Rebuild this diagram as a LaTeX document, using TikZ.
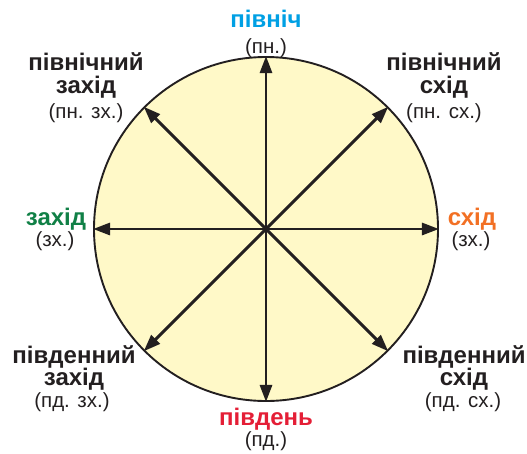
\documentclass[tikz,border=0pt]{standalone}
\usepackage{fontspec}
\setmainfont{Liberation Sans}
\usetikzlibrary{arrows.meta}
\definecolor{compink}{RGB}{35,31,32}
\definecolor{dialcream}{RGB}{255,249,200}
\definecolor{northblue}{RGB}{0,160,228}
\definecolor{westgreen}{RGB}{16,128,70}
\definecolor{eastorange}{RGB}{242,112,36}
\definecolor{southred}{RGB}{228,30,54}

\begin{document}
\begin{tikzpicture}[
  x=1pt, y=-1pt,
  bigword/.style={font=\fontsize{24}{24}\selectfont\bfseries, anchor=base, inner sep=0pt},
  abbr/.style={font=\fontsize{20.5}{20.5}\selectfont, anchor=base, inner sep=0pt, text=compink},
  ray/.style={compink, line width=2.9pt, -{Triangle[length=17pt,width=12pt]}},
]
  \useasboundingbox (0,0) rectangle (527,453);

  \node[circle, draw=compink, line width=1.9pt, fill=dialcream,
        minimum size=344pt, inner sep=0pt] (dial) at (266,229) {};

  \foreach \a in {0,45,...,315}
    \draw[ray] (dial.center) -- (dial.\a);

  \foreach \nm/\x/\y/\c/\txt in {
    n/266/27/northblue/північ,
    nwa/86/70/compink/північний,
    nwb/86/93/compink/захід,
    nea/444/70/compink/північний,
    neb/444/93/compink/схід,
    w/56/225/westgreen/захід,
    e/472/225/eastorange/схід,
    swa/74/363/compink/південний,
    swb/74/385/compink/захід,
    sea/464/363/compink/південний,
    seb/464/385/compink/схід,
    s/266/425/southred/південь%
  }
    \node[bigword, text=\c] (\nm) at (\x,\y) {\txt};

  \foreach \nm/\x/\y/\txt in {
    nab/266/53/(пн.),
    nwab/86/118/(пн. зх.),
    neab/444/118/(пн. сх.),
    wab/55/246/(зх.),
    eab/471/246/(зх.),
    swab/72/407/(пд. зх.),
    seab/463/407/(пд. сх.),
    sab/266/446/(пд.)%
  }
    \node[abbr] (\nm) at (\x,\y) {\txt};
\end{tikzpicture}
\end{document}
